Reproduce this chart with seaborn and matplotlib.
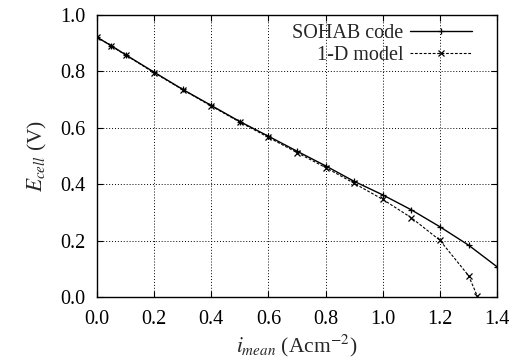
import numpy as np
import pandas as pd
import matplotlib
matplotlib.use("Agg")
import matplotlib.pyplot as plt
import seaborn as sns

sohab_x = [0.0, 0.05, 0.1, 0.2, 0.3, 0.4, 0.5, 0.6, 0.7, 0.8, 0.9, 1.0, 1.1, 1.2, 1.3, 1.4]
sohab_y = [0.921, 0.891, 0.859, 0.797, 0.736, 0.679, 0.622, 0.570, 0.517, 0.465, 0.410, 0.362, 0.309, 0.249, 0.184, 0.107]
model_x = [0.0, 0.05, 0.1, 0.2, 0.3, 0.4, 0.5, 0.6, 0.7, 0.8, 0.9, 1.0, 1.1, 1.2, 1.3, 1.33]
model_y = [0.922, 0.890, 0.858, 0.795, 0.735, 0.677, 0.620, 0.566, 0.512, 0.459, 0.403, 0.346, 0.281, 0.201, 0.076, 0.005]
x_ticks = [0.0, 0.2, 0.4, 0.6, 0.8, 1.0, 1.2, 1.4]
y_ticks = [0.0, 0.2, 0.4, 0.6, 0.8, 1.0]

sns.set_style("ticks")
plt.rcParams['font.family'] = ['Liberation Serif', 'DejaVu Serif']
plt.rcParams['mathtext.fontset'] = 'stix'

df = pd.concat([
    pd.DataFrame({"x": sohab_x, "y": sohab_y, "series": "SOHAB code"}),
    pd.DataFrame({"x": model_x, "y": model_y, "series": "1-D model"}),
])

fig = plt.figure(figsize=(5.13, 3.64), dpi=100)
ax = fig.add_axes([0.189, 0.184, 0.780, 0.775])

sns.lineplot(data=df[df.series == "SOHAB code"], x="x", y="y", ax=ax, color="black",
             lw=1.0, marker="+", markersize=5, markeredgewidth=0.9, markeredgecolor="black",
             label="SOHAB code", sort=False)
sns.lineplot(data=df[df.series == "1-D model"], x="x", y="y", ax=ax, color="black",
             lw=0.8, ls=(0, (2.5, 1.5)), marker="x", markersize=4, markeredgewidth=0.9,
             markeredgecolor="black", label="1-D model", sort=False)

ax.set_xlim(0, 1.4)
ax.set_ylim(0, 1.0)
ax.set_xticks(x_ticks)
ax.set_yticks(y_ticks)
ax.set_xticklabels([f"{v:.1f}" for v in x_ticks])
ax.set_yticklabels([f"{v:.1f}" for v in y_ticks])
ax.grid(True, color="black", ls=(0, (1, 2)), lw=0.7)
for s in ax.spines.values():
    s.set_visible(True)
    s.set_color("black")
    s.set_linewidth(1.0)
ax.tick_params(direction="in", length=4, labelsize=14.5, colors="black", top=True, right=True)
ax.tick_params(axis="x", pad=9)
ax.tick_params(axis="y", pad=8)
ax.set_xlabel(r"$i_{mean}$ (Acm$^{-2}$)", fontsize=15.5, labelpad=3)
ax.set_ylabel(r"$E_{cell}$ (V)", fontsize=15.5, labelpad=8)
leg = ax.legend(loc="upper right", bbox_to_anchor=(0.9575, 0.998), frameon=False,
                markerfirst=False, fontsize=14.5, handlelength=3.1, borderaxespad=0.0,
                labelspacing=0.15, handletextpad=0.3)
fig.savefig("out.png", dpi=100)
